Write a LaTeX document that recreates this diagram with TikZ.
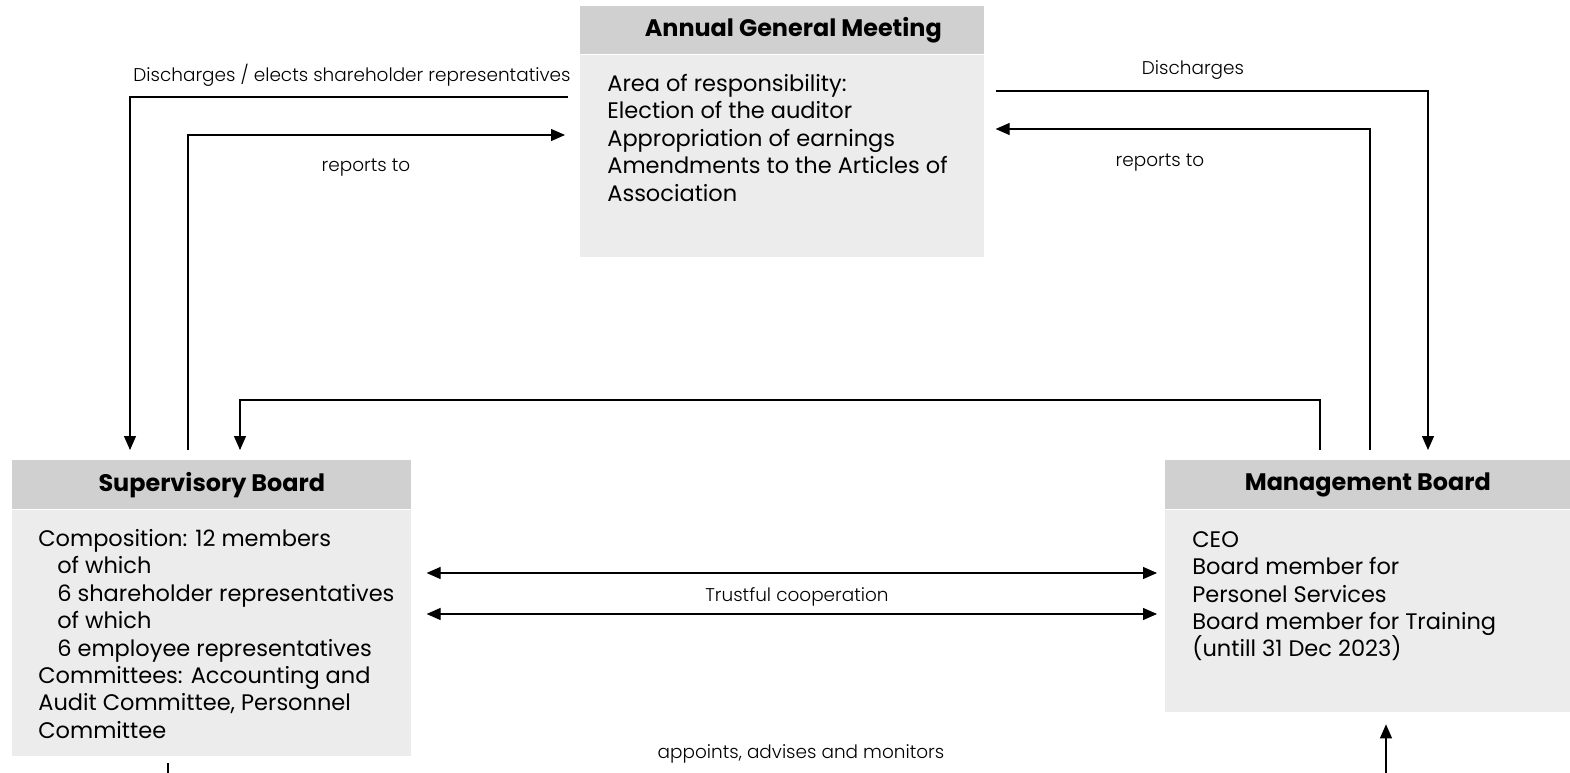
\documentclass[tikz,border=0pt]{standalone}
\usepackage{fontspec}
\setmainfont{Poppins}
\newfontfamily\lightfont{Poppins Light}
\usetikzlibrary{calc,arrows.meta}
\definecolor{headgray}{HTML}{D0D0D0}
\definecolor{bodygray}{HTML}{ECECEC}
\tikzset{
  headbox/.style={fill=headgray, anchor=north west, inner sep=0pt, font=\bfseries\fontsize{13.6}{15}\selectfont},
  bodybox/.style={fill=bodygray, anchor=north west, inner sep=0pt},
  bodytext/.style={anchor=north west, align=left, inner sep=0pt, font=\fontsize{12.8}{15.6}\selectfont},
  lbl/.style={inner sep=0pt, font=\lightfont\fontsize{10.5}{12}\selectfont},
  link/.style={line width=0.7pt},
  arr/.style={link, -{Triangle[length=0.28cm,width=0.24cm]}},
  darr/.style={link, {Triangle[length=0.28cm,width=0.24cm]}-{Triangle[length=0.28cm,width=0.24cm]}}
}

\begin{document}
\begin{tikzpicture}[x=0.02cm, y=-0.02cm]
  \useasboundingbox (0,0) rectangle (1570,773);

  %%%%% boxes %%%%%
  \node[headbox, minimum width=8.08cm, minimum height=0.96cm] (agmhead) at (580,6) {\hspace*{0.44cm}Annual General Meeting};
  \node[bodybox, minimum width=8.08cm, minimum height=4.04cm] (agmbody) at (agmhead.south west) {};
  \node[bodytext] (agmtext) at (607,74) {Area of responsibility:\\Election of the auditor\\Appropriation of earnings\\Amendments to the Articles of\\Association};

  \node[headbox, minimum width=7.98cm, minimum height=0.98cm] (sbhead) at (12,460) {Supervisory Board};
  \node[bodybox, minimum width=7.98cm, minimum height=4.92cm] (sbbody) at (sbhead.south west) {};
  \node[bodytext] (sbtext) at (38,529) {Composition: 12 members\\\hspace*{0.38cm}of which\\\hspace*{0.38cm}6 shareholder representatives\\\hspace*{0.38cm}of which\\\hspace*{0.38cm}6 employee representatives\\Committees: Accounting and\\Audit Committee, Personnel\\Committee};

  \node[headbox, minimum width=8.1cm, minimum height=0.98cm] (mbhead) at (1165,460) {Management Board};
  \node[bodybox, minimum width=8.1cm, minimum height=4.04cm] (mbbody) at (mbhead.south west) {};
  \node[bodytext] (mbtext) at (1192,531) {CEO\\Board member for\\Personel Services\\Board member for Training\\(untill 31 Dec 2023)};

  %%%%% connectors %%%%%
  \draw[arr, shorten <=0.24cm, shorten >=0.2cm] (agmbody.west |- 0,97) -| ($(sbhead.north west)+(118,0)$);
  \draw[arr, shorten <=0.2cm, shorten >=0.3cm] ($(sbhead.north west)+(176,0)$) |- (agmbody.west |- 0,135);
  \draw[arr, shorten <=0.22cm, shorten >=0.2cm] (agmbody.east |- 0,91) -| ($(mbhead.north west)+(263,0)$);
  \draw[arr, shorten <=0.2cm, shorten >=0.22cm] ($(mbhead.north west)+(205,0)$) |- (agmbody.east |- 0,129);
  \draw[arr, shorten <=0.2cm, shorten >=0.2cm] ($(mbhead.north west)+(155,0)$) -- ++(0,-60) -| ($(sbhead.north west)+(228,0)$);

  \draw[darr, shorten <=0.3cm, shorten >=0.16cm] (sbbody.east |- 0,573) -- (mbbody.west |- 0,573);
  \draw[darr, shorten <=0.3cm, shorten >=0.16cm] (sbbody.east |- 0,614) -- (mbbody.west |- 0,614);

  \coordinate (sbdown) at (168,773);
  \coordinate (mbup) at (1386,773);
  \draw[link, shorten <=0.14cm] (sbbody.south -| sbdown) -- (sbdown);
  \draw[arr, shorten >=0.24cm] (mbup) -- (mbbody.south -| mbup);

  %%%%% labels %%%%%
  \node[lbl] (dischl) at (352,75) {Discharges / elects shareholder representatives};
  \node[lbl] (repl) at (366,168) {reports to};
  \node[lbl] (dischr) at (1193,70) {Discharges};
  \node[lbl] (repr) at (1160,163) {reports to};
  \node[lbl] (trust) at (797,597) {Trustful cooperation};
  \node[lbl] (appoint) at (801,754) {appoints, advises and monitors};
\end{tikzpicture}
\end{document}
